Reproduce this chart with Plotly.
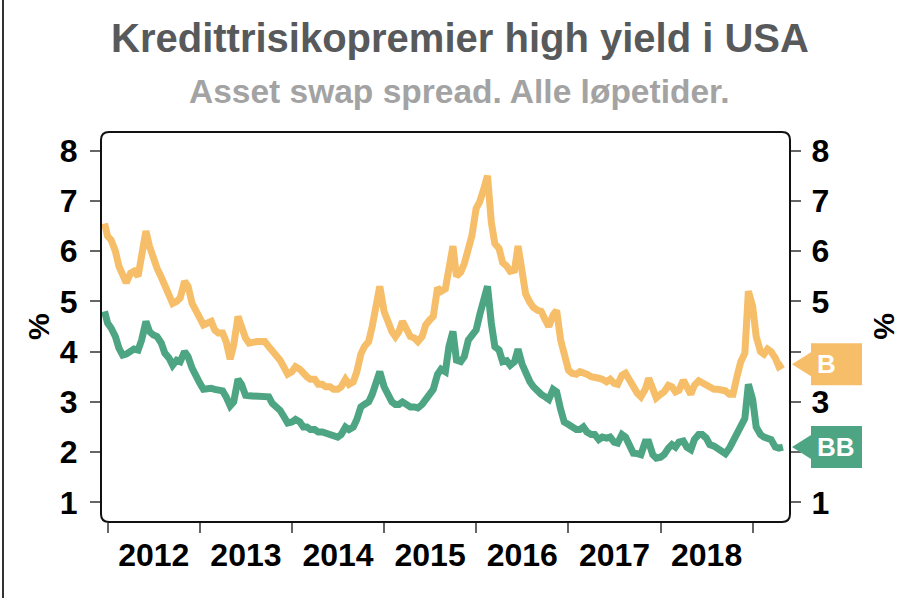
import plotly.graph_objects as go
import pandas as pd

# ---------------- data ----------------
first_date = ["2011-12-20"]
semi_monthly = [d.strftime("%Y-%m-%d") for d in pd.date_range("2012-01-01", "2019-05-01", freq="SMS")]
dates = first_date + semi_monthly

b_2011 = [6.55]
b_2012 = [6.3, 6.22, 6.0, 5.7, 5.52, 5.37, 5.56, 5.6, 5.5, 5.9, 6.4, 6.1,
          5.85, 5.66, 5.48, 5.32, 5.18, 4.96, 5.0, 5.07, 5.4, 5.3, 4.96, 4.83]
b_2013 = [4.6, 4.53, 4.57, 4.6, 4.43, 4.37, 4.37, 4.2, 3.85, 4.13, 4.7, 4.45,
          4.27, 4.17, 4.2, 4.2, 4.2, 4.2, 4.1, 4.03, 3.9, 3.83, 3.68, 3.55]
b_2014 = [3.6, 3.7, 3.65, 3.55, 3.5, 3.45, 3.45, 3.35, 3.35, 3.3, 3.3, 3.25,
          3.25, 3.3, 3.45, 3.35, 3.4, 3.6, 3.95, 4.1, 4.2, 4.5, 4.9, 5.3]
b_2015 = [4.8, 4.6, 4.4, 4.3, 4.4, 4.6, 4.4, 4.3, 4.27, 4.2, 4.3, 4.53,
          4.63, 4.7, 5.27, 5.2, 5.25, 5.7, 6.1, 5.5, 5.58, 5.75, 6.1, 6.3]
b_2016 = [6.85, 6.98, 7.25, 7.5, 6.58, 6.15, 6.05, 5.77, 5.7, 5.6, 5.62, 6.1,
          5.6, 5.15, 4.98, 4.88, 4.82, 4.8, 4.63, 4.5, 4.73, 4.82, 4.23, 3.9]
b_2017 = [3.63, 3.57, 3.55, 3.6, 3.58, 3.55, 3.5, 3.5, 3.47, 3.45, 3.4, 3.45,
          3.37, 3.35, 3.53, 3.57, 3.4, 3.27, 3.17, 3.1, 3.25, 3.47, 3.2, 3.08]
b_2018 = [3.15, 3.2, 3.33, 3.3, 3.2, 3.23, 3.43, 3.3, 3.15, 3.33, 3.42, 3.38,
          3.33, 3.28, 3.25, 3.25, 3.25, 3.22, 3.15, 3.15, 3.53, 3.8, 3.97, 5.2]
b_2019 = [4.9, 4.3, 4.0, 3.95, 4.05, 4.0, 3.87, 3.7, 3.75]

bb_2011 = [4.8]
bb_2012 = [4.57, 4.47, 4.3, 4.07, 3.93, 3.95, 4.03, 4.05, 4.03, 4.23, 4.6, 4.4,
           4.33, 4.3, 4.17, 3.97, 3.87, 3.73, 3.83, 3.8, 4.0, 3.9, 3.67, 3.5]
bb_2013 = [3.37, 3.25, 3.27, 3.27, 3.25, 3.25, 3.22, 3.1, 2.92, 3.0, 3.45, 3.35,
           3.13, 3.12, 3.12, 3.12, 3.13, 3.1, 3.1, 2.97, 2.9, 2.83, 2.7, 2.58]
bb_2014 = [2.6, 2.65, 2.6, 2.5, 2.5, 2.45, 2.45, 2.4, 2.4, 2.38, 2.35, 2.3,
           2.3, 2.35, 2.5, 2.45, 2.5, 2.65, 2.9, 2.95, 3.0, 3.15, 3.35, 3.6]
bb_2015 = [3.3, 3.15, 3.0, 2.95, 2.95, 3.0, 2.95, 2.9, 2.9, 2.88, 2.95, 3.05,
           3.15, 3.25, 3.55, 3.65, 3.6, 4.1, 4.4, 3.83, 3.8, 3.9, 4.23, 4.3]
bb_2016 = [4.43, 4.73, 5.03, 5.3, 4.57, 4.1, 4.03, 3.8, 3.82, 3.73, 3.8, 4.05,
           3.75, 3.57, 3.4, 3.3, 3.2, 3.15, 3.1, 3.05, 3.25, 3.2, 2.85, 2.6]
bb_2017 = [2.55, 2.5, 2.45, 2.45, 2.5, 2.4, 2.35, 2.35, 2.25, 2.3, 2.28, 2.3,
           2.2, 2.18, 2.35, 2.3, 2.1, 1.98, 1.97, 1.95, 2.2, 2.2, 1.95, 1.88]
bb_2018 = [1.9, 1.95, 2.08, 2.15, 2.1, 2.2, 2.22, 2.1, 2.05, 2.25, 2.35, 2.35,
           2.28, 2.15, 2.12, 2.08, 2.02, 1.97, 2.08, 2.22, 2.38, 2.55, 2.67, 3.35]
bb_2019 = [3.05, 2.5, 2.35, 2.3, 2.28, 2.25, 2.1, 2.08, 2.1]

b_values = b_2011 + b_2012 + b_2013 + b_2014 + b_2015 + b_2016 + b_2017 + b_2018 + b_2019
bb_values = bb_2011 + bb_2012 + bb_2013 + bb_2014 + bb_2015 + bb_2016 + bb_2017 + bb_2018 + bb_2019

series_names = ["B", "BB"]
y_ticks = [1, 2, 3, 4, 5, 6, 7, 8]
y_ticktext_left = ["1", "2", "3", "4", "5", "6", "7", "8"]
y_ticktext_right = ["1", "", "3", "", "5", "6", "7", "8"]  # 2 and 4 sit behind the end tags

title_text = "Kredittrisikopremier high yield i USA"
subtitle_text = "Asset swap spread. Alle løpetider."
axis_unit = "%"

# ---------------- styling / layout ----------------
W, H = 919, 598
L, R, T, B = 101, 129, 132, 76
PW, PH = W - L - R, H - T - B
ORANGE = "#F6BE69"
GREEN = "#4EA584"
FONT = "Liberation Sans, Arial, sans-serif"
Y_RANGE = [0.61, 8.37]
PX_PER_UNIT = PH / (Y_RANGE[1] - Y_RANGE[0])


def px_x(px):
    return (px - L) / PW


def px_y(py):
    return (H - B - py) / PH


fig = go.Figure()
fig.add_trace(go.Scatter(x=dates, y=b_values, name=series_names[0], mode="lines",
                         line=dict(color=ORANGE, width=7), hoverinfo="skip"))
fig.add_trace(go.Scatter(x=dates, y=bb_values, name=series_names[1], mode="lines",
                         line=dict(color=GREEN, width=7), hoverinfo="skip"))
# invisible trace to carry the mirrored right axis
fig.add_trace(go.Scatter(x=dates[:1], y=b_values[:1], yaxis="y2", mode="markers",
                         marker=dict(opacity=0), showlegend=False, hoverinfo="skip"))

tickfont = dict(family=FONT, size=32, color="#000000", weight="bold")

fig.update_layout(
    width=W, height=H,
    margin=dict(l=L, r=R, t=T, b=B),
    paper_bgcolor="white", plot_bgcolor="white",
    showlegend=False,
    xaxis=dict(type="date", range=["2011-12-06", "2019-05-29"],
               tick0="2012-01-01", dtick="M12", tickformat="%Y",
               ticklabelmode="period", ticks="outside", ticklen=10,
               tickwidth=1.5, tickcolor="#666666", showgrid=False,
               showline=False, zeroline=False, tickfont=tickfont,
               ticklabelstandoff=-5),
    yaxis=dict(range=Y_RANGE, tickvals=y_ticks, ticktext=y_ticktext_left,
               ticks="outside", ticklen=10,
               tickwidth=1.5, tickcolor="#666666", showgrid=False, showline=False,
               zeroline=False, tickfont=tickfont, ticklabelstandoff=6),
    yaxis2=dict(range=Y_RANGE, tickvals=y_ticks, ticktext=y_ticktext_right,
                ticks="outside", ticklen=10,
                tickwidth=1.5, tickcolor="#666666", showgrid=False, showline=False,
                zeroline=False, tickfont=tickfont, overlaying="y", side="right",
                ticklabelstandoff=4),
)

# rounded plot frame
rx, ry = 8 / PW, 8 / PH
frame = (f"M {rx},0 L {1-rx},0 Q 1,0 1,{ry} L 1,{1-ry} Q 1,1 {1-rx},1 "
         f"L {rx},1 Q 0,1 0,{1-ry} L 0,{ry} Q 0,0 {rx},0 Z")
fig.add_shape(type="path", path=frame, xref="paper", yref="paper",
              line=dict(color="#111111", width=2), layer="above")

# left border line of the picture
fig.add_shape(type="line", xref="paper", yref="paper",
              x0=px_x(3), x1=px_x(3), y0=px_y(H), y1=px_y(0),
              line=dict(color="#333333", width=2))

# end-value tags
x_tip, x_base, x_end = px_x(792), px_x(811), px_x(862)
h_half = 21 / PX_PER_UNIT
t_half = 12 / PX_PER_UNIT
for name, vals, col in [(series_names[0], b_values, ORANGE), (series_names[1], bb_values, GREEN)]:
    v = vals[-1]
    path = (f"M {x_tip},{v} L {x_base},{v + t_half} L {x_base},{v + h_half} "
            f"L {x_end},{v + h_half} L {x_end},{v - h_half} L {x_base},{v - h_half} "
            f"L {x_base},{v - t_half} Z")
    fig.add_shape(type="path", path=path, xref="paper", yref="y",
                  fillcolor=col, line=dict(width=0), layer="above")
    fig.add_annotation(text=name, x=px_x(815), y=v, xref="paper", yref="y",
                       xanchor="left", yanchor="middle", showarrow=False,
                       font=dict(family=FONT, size=26, color="white", weight="bold"))

# titles
fig.add_annotation(text=title_text, x=px_x(459.5), y=px_y(38), xref="paper", yref="paper",
                   xanchor="center", yanchor="middle", showarrow=False,
                   font=dict(family=FONT, size=40, color="#58595B", weight="bold"))
fig.add_annotation(text=subtitle_text, x=px_x(459.5), y=px_y(92), xref="paper", yref="paper",
                   xanchor="center", yanchor="middle", showarrow=False,
                   font=dict(family=FONT, size=33.5, color="#A3A3A3", weight="bold"))

# axis unit labels
fig.add_annotation(text=axis_unit, x=px_x(38), y=px_y(326), xref="paper", yref="paper",
                   xanchor="center", yanchor="middle", showarrow=False, textangle=-90,
                   font=dict(family=FONT, size=30, color="#000000", weight="bold"))
fig.add_annotation(text=axis_unit, x=px_x(885), y=px_y(326), xref="paper", yref="paper",
                   xanchor="center", yanchor="middle", showarrow=False, textangle=90,
                   font=dict(family=FONT, size=30, color="#000000", weight="bold"))

fig.write_html("out.html",
               config={"displayModeBar": False},
               post_script="document.body.style.margin='0';document.body.style.overflow='hidden';")
